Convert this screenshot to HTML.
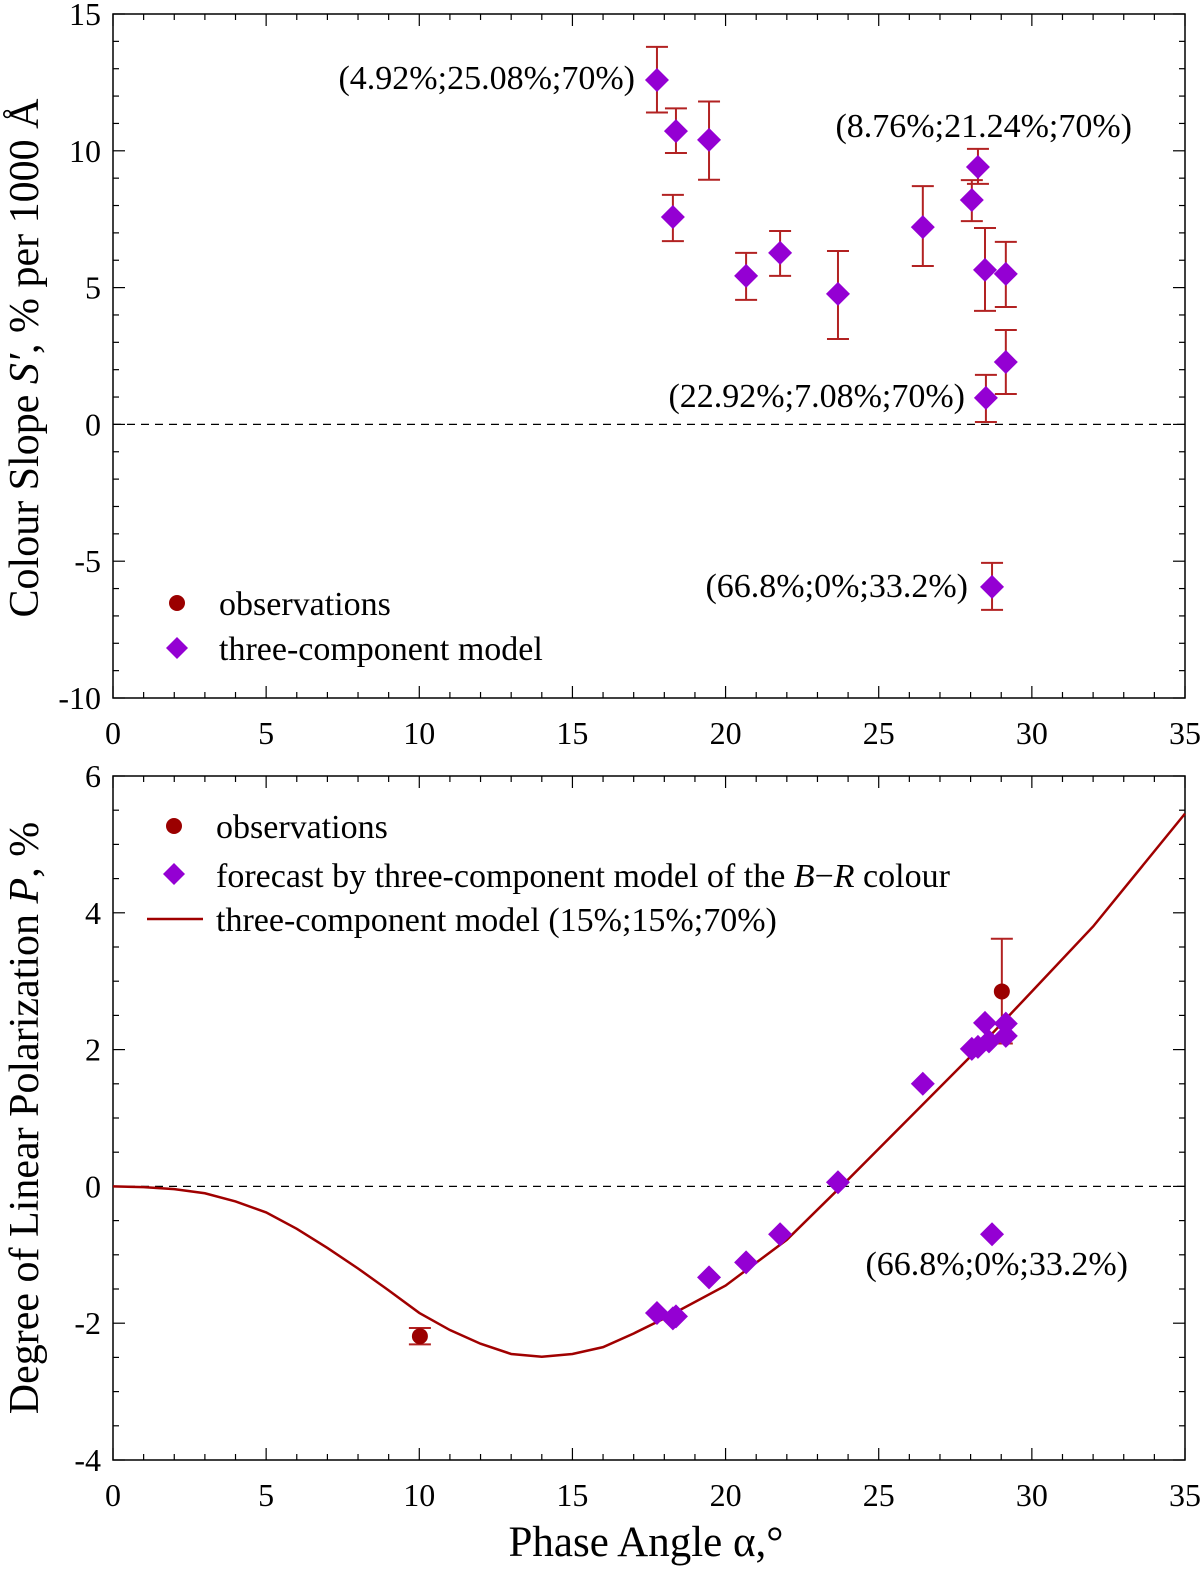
<!DOCTYPE html>
<html><head><meta charset="utf-8"><style>
body{margin:0;background:#fff;}
svg{display:block;font-family:"Liberation Serif",serif;}
</style></head><body>
<svg id="c" width="1200" height="1572"></svg>
<script>
const xTicks=[0,5,10,15,20,25,30,35];
const topYTicks=[-10,-5,0,5,10,15];
const botYTicks=[-4,-2,0,2,4,6];
const slopeX=[17.76,18.38,18.28,19.46,20.67,21.78,23.67,26.44,28.04,28.24,28.47,29.15,29.15,28.5,28.7];
const slopeY=[12.59,10.72,7.58,10.4,5.43,6.27,4.77,7.21,8.2,9.41,5.65,5.5,2.28,0.97,-5.94];
const slopeHi=[13.8,11.55,8.39,11.8,6.27,7.07,6.34,8.71,8.93,10.07,7.18,6.67,3.45,1.81,-5.06];
const slopeLo=[11.4,9.92,6.7,8.94,4.55,5.43,3.12,5.79,7.43,8.79,4.15,4.29,1.11,0.09,-6.78];
const polX=[17.76,18.28,18.38,19.46,20.67,21.78,23.67,26.44,28.04,28.24,28.47,28.6,29.15,29.15,28.7];
const polY=[-1.85,-1.93,-1.9,-1.33,-1.11,-0.7,0.06,1.5,2.01,2.04,2.39,2.12,2.38,2.2,-0.7];
const obsX=[10.02,29.02];
const obsY=[-2.19,2.85];
const obsHi=[-2.07,3.62];
const obsLo=[-2.31,2.09];
const modelX=[0,1,2,3,4,5,6,7,8,9,10,11,12,13,14,15,16,17,18,20,22,24,26,28,30,32,35];
const modelY=[0,-0.01,-0.04,-0.1,-0.22,-0.38,-0.62,-0.9,-1.2,-1.52,-1.85,-2.1,-2.3,-2.45,-2.49,-2.45,-2.35,-2.15,-1.93,-1.45,-0.78,0.1,1.0,1.9,2.85,3.8,5.45];

const NS='http://www.w3.org/2000/svg';
const svg=document.getElementById('c');
function mk(t,a,p){const e=document.createElementNS(NS,t);for(const k in a)e.setAttribute(k,a[k]);(p||svg).appendChild(e);return e;}
const L=113,R=1185;
const xs=v=>L+(R-L)*v/35;
function panel(name,top,bot,ymin,ymax,yTicks,yMinorStep){
  const g=mk('g',{});
  
  
  const ys=v=>bot-(bot-top)*(v-ymin)/(ymax-ymin);
  mk('rect',{x:L,y:top,width:R-L,height:bot-top,fill:'none',stroke:'#000','stroke-width':1.5},g);
  for(let v=0;v<=35;v++){const x=xs(v),len=v%5===0?12:6;
    mk('line',{x1:x,x2:x,y1:bot,y2:bot-len,stroke:'#000','stroke-width':1.2},g);
    mk('line',{x1:x,x2:x,y1:top,y2:top+len,stroke:'#000','stroke-width':1.2},g);}
  for(let v=ymin;v<=ymax+1e-9;v+=yMinorStep){const y=ys(v);const maj=yTicks.some(t=>Math.abs(t-v)<1e-6);const len=maj?12:6;
    mk('line',{x1:L,x2:L+len,y1:y,y2:y,stroke:'#000','stroke-width':1.2},g);
    mk('line',{x1:R,x2:R-len,y1:y,y2:y,stroke:'#000','stroke-width':1.2},g);}
  xTicks.forEach(v=>{const t=mk('text',{x:xs(v),y:bot+46,'font-size':32,'text-anchor':'middle'},g);t.textContent=v;
    });
  yTicks.forEach(v=>{const t=mk('text',{x:L-12,y:ys(v)+11,'font-size':32,'text-anchor':'end'},g);t.textContent=v;
    });
  mk('line',{x1:L,x2:R,y1:ys(0),y2:ys(0),stroke:'#000','stroke-width':1.3,'stroke-dasharray':'8,6'},g);
  return {g,ys};
}
function err(g,x,hi,lo,ys){
  const e=mk('g',{stroke:'#b22222','stroke-width':2},g);
  
  
  mk('line',{x1:x,x2:x,y1:ys(hi),y2:ys(lo)},e);
  mk('line',{x1:x-11,x2:x+11,y1:ys(hi),y2:ys(hi)},e);
  mk('line',{x1:x-11,x2:x+11,y1:ys(lo),y2:ys(lo)},e);
}
function diamond(g,x,y,r){const p=mk('polygon',{points:`${x},${y-r} ${x+r},${y} ${x},${y+r} ${x-r},${y}`,fill:'#9400d3'},g);
  return p;}
function txt(g,x,y,s,size,anchor,name){const t=mk('text',{x:x,y:y,'font-size':size,'text-anchor':anchor||'start'},g);t.textContent=s;
  return t;}

// top panel
const A=panel('colour-slope-panel',14,698,-10,15,topYTicks,1);
slopeX.forEach((x,i)=>{err(A.g,xs(x),slopeHi[i],slopeLo[i],A.ys);});
slopeX.forEach((x,i)=>{diamond(A.g,xs(x),A.ys(slopeY[i]),12);});
txt(A.g,635,89,'(4.92%;25.08%;70%)',34,'end','annotation-1');
txt(A.g,1132,137,'(8.76%;21.24%;70%)',34,'end','annotation-2');
txt(A.g,965,407,'(22.92%;7.08%;70%)',34,'end','annotation-3');
txt(A.g,968,597,'(66.8%;0%;33.2%)',34,'end','annotation-4');
mk('circle',{cx:177,cy:603,r:8,fill:'#9b0000'},A.g);
txt(A.g,219,615,'observations',34,'start','legend-observations');
diamond(A.g,177,648,11);
txt(A.g,219,660,'three-component model',34,'start','legend-model');
const yt1=txt(svg,0,0,'',42,'middle','y-axis-title-top');
yt1.setAttribute('transform','translate(38,358) rotate(-90)');
yt1.innerHTML='Colour Slope <tspan font-style="italic">S′</tspan>, % per 1000 Å';

// bottom panel
const B=panel('polarization-panel',776,1460,-4,6,botYTicks,0.5);
let d='';modelX.forEach((x,i)=>{d+=(i?'L':'M')+xs(x)+','+B.ys(modelY[i]);});
const path=mk('path',{d:d,fill:'none',stroke:'#a00000','stroke-width':2.5},B.g);

obsX.forEach((x,i)=>{err(B.g,xs(x),obsHi[i],obsLo[i],B.ys);});
polX.forEach((x,i)=>{diamond(B.g,xs(x),B.ys(polY[i]),12);});
obsX.forEach((x,i)=>{const c=mk('circle',{cx:xs(x),cy:B.ys(obsY[i]),r:8,fill:'#9b0000'},B.g);
  });
txt(B.g,1128,1275,'(66.8%;0%;33.2%)',34,'end','annotation-5');
mk('circle',{cx:174,cy:826,r:8,fill:'#9b0000'},B.g);
txt(B.g,216,838,'observations',34,'start','legend-observations-2');
diamond(B.g,174,874,11);
const lt=txt(B.g,216,887,'',34,'start','legend-forecast');
lt.innerHTML='forecast by three-component model of the <tspan font-style="italic">B</tspan>−<tspan font-style="italic">R</tspan> colour';
mk('line',{x1:147,x2:203,y1:919,y2:919,stroke:'#a00000','stroke-width':2.5},B.g);
txt(B.g,216,931,'three-component model (15%;15%;70%)',34,'start','legend-model-curve');
const yt2=txt(svg,0,0,'',42,'middle','y-axis-title-bottom');
yt2.setAttribute('transform','translate(38,1118) rotate(-90)');
yt2.innerHTML='Degree of Linear Polarization <tspan font-style="italic">P</tspan>, %';
txt(svg,646,1556,'Phase Angle α,°',43,'middle','x-axis-title');
</script>
</body></html>
